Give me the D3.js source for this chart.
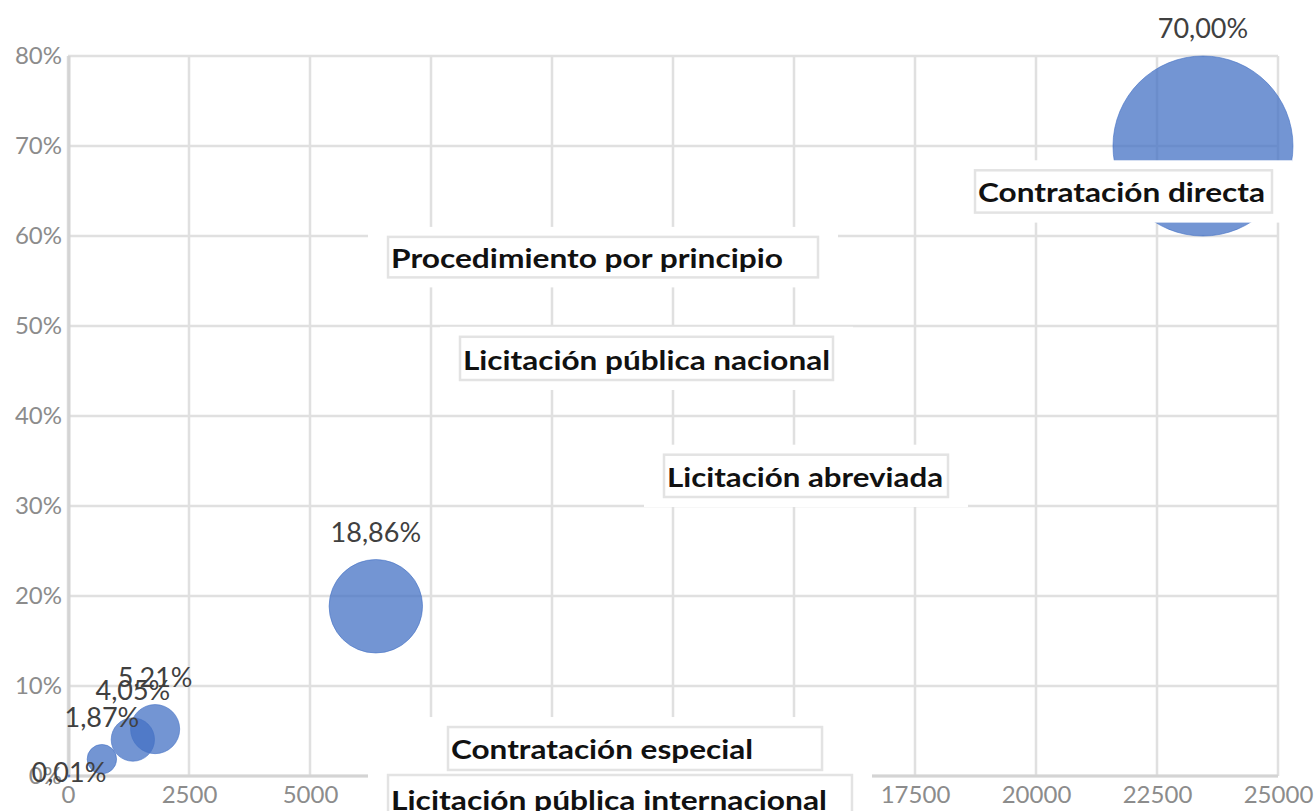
<!DOCTYPE html>
<html>
<head>
<meta charset="utf-8">
<script src="https://cdn.jsdelivr.net/npm/d3@7/dist/d3.min.js"></script>
<style>
  html, body { margin: 0; padding: 0; background: #fff; }
  svg { display: block; }
</style>
</head>
<body>
<svg id="chart" width="1316" height="811"></svg>
<script>
// ---- Data ----
const categories = [
  "Contratación directa",
  "Licitación abreviada",
  "Licitación pública nacional",
  "Procedimiento por principio",
  "Contratación especial",
  "Licitación pública internacional"
];
const xValues     = [23450, 6360, 1800, 1340, 700, 20];
const yValues     = [70.00, 18.86, 5.21, 4.05, 1.87, 0.01];
const bubbleSizes = [70.00, 18.86, 5.21, 4.05, 1.87, 0.01];
const xTicks = [0, 2500, 5000, 7500, 10000, 12500, 15000, 17500, 20000, 22500, 25000];
const yTicks = [0, 10, 20, 30, 40, 50, 60, 70, 80];

// ---- Layout (annotation placement, in data units) ----
const pctLabelLift = [27, 27, 27, 27, 27, 2];
const labelLayout = [
  { name: "Contratación directa",            x0: 18740, x1: 24876, yTop: 67.3, yBot: 62.6, tEnd: 24731, ty: 64.9 },
  { name: "Procedimiento por principio",     x0: 6612,  x1: 15496, yTop: 59.9, yBot: 55.4, tEnd: 14773, ty: 57.56 },
  { name: "Licitación pública nacional",     x0: 8099,  x1: 15806, yTop: 48.8, yBot: 44.0, tEnd: 15744, ty: 46.22 },
  { name: "Licitación abreviada",            x0: 12314, x1: 18182, yTop: 35.7, yBot: 31.0, tEnd: 18079, ty: 33.22 },
  { name: "Contratación especial",           x0: 7851,  x1: 15579, yTop: 5.44, yBot: 0.67, tEnd: 14153, ty: 3.0 },
  { name: "Licitación pública internacional",x0: 6612,  x1: 16198, yTop: 0.11, yBot: -5.5, tEnd: 15682, ty: -2.67 }
];

// ---- Scales ----
const svg = d3.select("#chart");
const plot = { left: 68, right: 1278, top: 56, bottom: 776 };
const x = d3.scaleLinear().domain([0, 25000]).range([plot.left, plot.right]);
const y = d3.scaleLinear().domain([0, 80]).range([plot.bottom, plot.top]);
const r = d3.scaleSqrt().domain([0, 70]).range([0, 90]);

const locale = d3.formatLocale({ decimal: ",", thousands: ".", grouping: [3], currency: ["", ""] });
const fmtPct = v => locale.format(".2f")(v) + "%";

svg.append("rect").attr("width", 1316).attr("height", 811).attr("fill", "#fff");

// ---- Gridlines ----
const grid = svg.append("g");
grid.selectAll("line.v").data(xTicks).enter().append("line")
  .attr("x1", d => x(d)).attr("x2", d => x(d))
  .attr("y1", y(80)).attr("y2", y(0))
  .attr("stroke", "#e0e0e0").attr("stroke-width", 2.5);
grid.selectAll("line.h").data(yTicks).enter().append("line")
  .attr("x1", x(0)).attr("x2", x(25000))
  .attr("y1", d => y(d)).attr("y2", d => y(d))
  .attr("stroke", "#e0e0e0").attr("stroke-width", 2.5);
// axis lines
svg.append("line").attr("x1", x(0)).attr("x2", x(25000)).attr("y1", y(0)).attr("y2", y(0))
  .attr("stroke", "#d4d4d4").attr("stroke-width", 3);
svg.append("line").attr("x1", x(0)+1).attr("x2", x(0)+1).attr("y1", y(80)).attr("y2", y(0))
  .attr("stroke", "#d4d4d4").attr("stroke-width", 3);

// ---- Axes tick labels ----
const xAxis = d3.axisBottom(x).tickValues(xTicks).tickSize(0).tickPadding(0).tickFormat(d3.format("d"));
const gx = svg.append("g").attr("transform", `translate(0,${y(0)})`).call(xAxis);
gx.select(".domain").remove();
gx.selectAll("text").attr("y", 19).attr("dy", "0.35em")
  .attr("font-family", "Lato, 'Open Sans', sans-serif").attr("font-size", 24).attr("fill", "#8c8c8c");

const yAxis = d3.axisLeft(y).tickValues(yTicks).tickSize(0).tickPadding(0).tickFormat(d => d + "%");
const gy = svg.append("g").attr("transform", `translate(${x(0) - 6},0)`).call(yAxis);
gy.select(".domain").remove();
gy.selectAll("text").attr("x", 0).attr("dy", "0.32em")
  .attr("font-family", "Lato, 'Open Sans', sans-serif").attr("font-size", 24).attr("fill", "#8c8c8c");

// ---- Bubbles ----
const pts = categories.map((c, i) => ({ c, x: xValues[i], y: yValues[i], s: bubbleSizes[i], lift: pctLabelLift[i] }));
svg.append("g").selectAll("circle").data(pts).enter().append("circle")
  .attr("cx", d => x(d.x)).attr("cy", d => y(d.y)).attr("r", d => Math.max(r(d.s), 1))
  .attr("fill", "#4472C4").attr("fill-opacity", 0.75)
  .attr("stroke", "#4472C4").attr("stroke-opacity", 0.6).attr("stroke-width", 1);

// ---- Percentage labels ----
svg.append("g").selectAll("text").data(pts).enter().append("text")
  .attr("x", d => x(d.x))
  .attr("y", d => y(d.y) - Math.max(r(d.s), 1) - d.lift)
  .attr("dy", "0.35em")
  .attr("text-anchor", "middle")
  .attr("font-family", "Lato, 'Open Sans', sans-serif").attr("font-size", 27).attr("fill", "#404040")
  .text(d => fmtPct(d.y));

// ---- Category label boxes ----
const lg = svg.append("g");
labelLayout.forEach(L => {
  const bx0 = x(L.x0), bx1 = x(L.x1), by0 = y(L.yTop), by1 = y(L.yBot);
  lg.append("rect").attr("x", bx0 - 20).attr("y", by0 - 10)
    .attr("width", bx1 - bx0 + 40).attr("height", by1 - by0 + 20).attr("fill", "#fff");
});
labelLayout.forEach(L => {
  const bx0 = x(L.x0), bx1 = x(L.x1), by0 = y(L.yTop), by1 = y(L.yBot);
  lg.append("rect").attr("x", bx0).attr("y", by0)
    .attr("width", bx1 - bx0).attr("height", by1 - by0)
    .attr("fill", "#fff").attr("stroke", "#e3e3e3").attr("stroke-width", 2.5);
  lg.append("text").attr("x", bx0 + 3).attr("y", y(L.ty)).attr("dy", "0.36em")
    .attr("font-family", "Lato, 'Open Sans', sans-serif").attr("font-weight", "bold")
    .attr("font-size", 27).attr("fill", "#111")
    .attr("textLength", x(L.tEnd) - bx0 - 3).attr("lengthAdjust", "spacingAndGlyphs")
    .text(L.name);
});
</script>
</body>
</html>
